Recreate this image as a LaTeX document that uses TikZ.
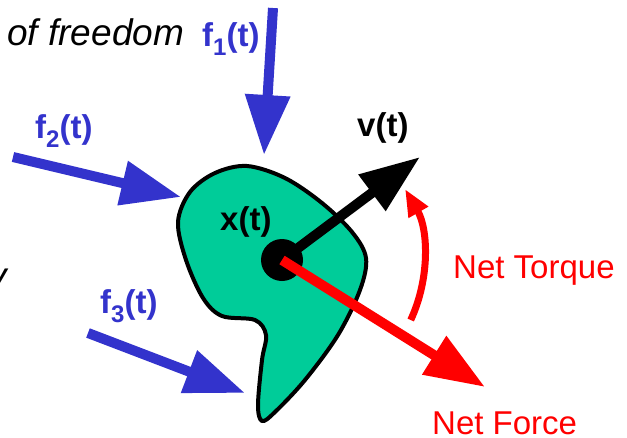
\documentclass[tikz,border=0pt]{standalone}
\usepackage{fontspec}
\setmainfont{Liberation Sans}
\usetikzlibrary{positioning, arrows.meta}
\definecolor{azul}{HTML}{3333CC}
\definecolor{verde}{HTML}{00CC99}
\definecolor{rojo}{HTML}{FF0000}
\newcommand{\indice}[1]{\raisebox{-0.3em}{\fontsize{24}{24}\selectfont #1}}

\begin{document}
\begin{tikzpicture}[x=1pt, y=-1pt,
				flecha/.style={line width=10pt, -{Triangle[length=60pt, width=43pt]}},
				fuerza/.style={flecha, azul},
				etiqueta/.style={inner sep=0pt, anchor=base west, font=\fontsize{33}{40}\selectfont\bfseries},
				texto/.style={inner sep=0pt, anchor=base west, font=\fontsize{33}{40}\selectfont}]
				\useasboundingbox (0,0) rectangle (627,437);
				% cuerpo
				\draw[line width=4pt, line join=round, fill=verde] plot[smooth cycle, tension=0.55] coordinates {
					(247,166) (285,178) (322,203) (352,232) (366,258) (360,290) (338,335) (305,380)
					(275,412) (262,421) (258,405) (262,360) (266,335) (255,320) (222,316) (203,298)
					(186,260) (178,222) (190,192) (215,173)};
				\coordinate (f1ini) at (273,8);   \coordinate (f1fin) at (264,155);
				\coordinate (f2ini) at (13,157);  \coordinate (f2fin) at (181,197);
				\coordinate (f3ini) at (88,333);  \coordinate (f3fin) at (245,393);
				\coordinate (vfin)  at (420,157);
				\coordinate (ffin)  at (485,387);
				\draw[fuerza] (f1ini) -- (f1fin);
				\draw[fuerza] (f2ini) -- (f2fin);
				\draw[fuerza] (f3ini) -- (f3fin);
				\node[circle, fill=black, minimum size=42pt, inner sep=0pt] (cdm) at (282,260) {};
				\draw[flecha, black] (cdm.center) -- (vfin);
				\draw[flecha, rojo]  (cdm.center) -- (ffin);
				\draw[rojo, line width=7pt, -{Triangle[length=27pt, width=21pt]}]
					(cdm.center) ++(25:142) arc[start angle=25, end angle=-30, radius=142];
				% textos
				\node[texto, font=\fontsize{37}{42}\selectfont\itshape] (grados) at (7,45) {of freedom};
				\node[texto, anchor=base east, font=\fontsize{37}{42}\selectfont\itshape] (corte) at (7,288) {y};
				\node[etiqueta, azul] (f1) at (202,46)  {f\indice{1}(t)};
				\node[etiqueta, azul] (f2) at (35,138)  {f\indice{2}(t)};
				\node[etiqueta, azul] (f3) at (100,313) {f\indice{3}(t)};
				\node[etiqueta] (v) at (357,136) {v(t)};
				\node[etiqueta] (x) at (220,230) {x(t)};
				\node[texto, rojo] (torque) at (453,278) {Net Torque};
				\node[texto, rojo] (fuerzaneta) at (432,434) {Net Force};
			\end{tikzpicture}
\end{document}
